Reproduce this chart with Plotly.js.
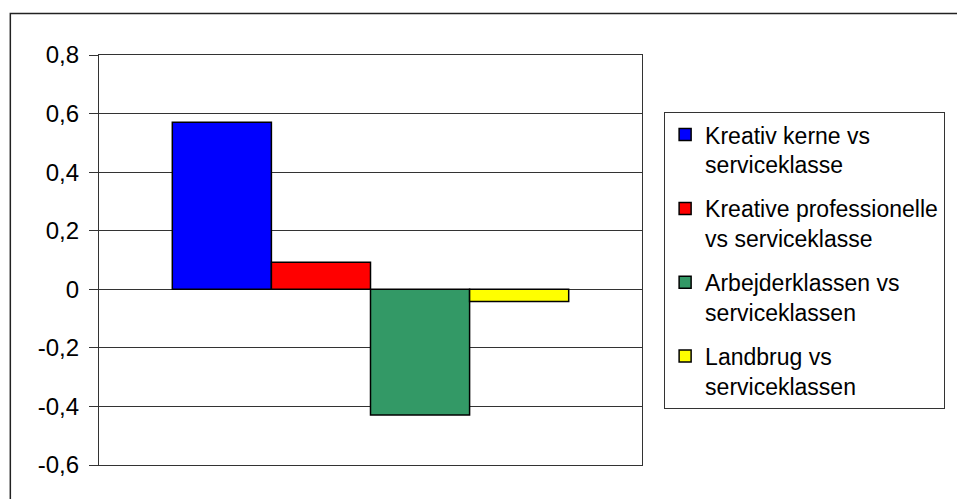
<!DOCTYPE html>
<html>
<head>
<meta charset="utf-8">
<script src="https://cdn.plot.ly/plotly-3.0.1.min.js"></script>
<style>html,body{margin:0;padding:0;background:#fff;}#chart{width:957px;height:499px;}</style>
</head>
<body>
<div id="chart"></div>
<script>
var category = [''];
var seriesNames = ['Kreativ kerne vs<br>serviceklasse', 'Kreative professionelle<br>vs serviceklasse', 'Arbejderklassen vs<br>serviceklassen', 'Landbrug vs<br>serviceklassen'];
var seriesValues = [0.57, 0.092, -0.429, -0.042];
var seriesColors = ['#0000FF', '#FF0000', '#339966', '#FFFF00'];
var tickValues = [-0.6, -0.4, -0.2, 0, 0.2, 0.4, 0.6, 0.8];
var tickLabels = ['-0,6', '-0,4', '-0,2', '0', '0,2', '0,4', '0,6', '0,8'];

var font = 'Arial, "Liberation Sans", sans-serif';
var traces = seriesNames.map(function (name, i) {
  return {
    type: 'bar',
    name: name,
    x: category,
    y: [seriesValues[i]],
    legendgroup: 'g' + i,
    marker: {color: seriesColors[i], line: {color: '#000', width: 1.5}},
    hoverinfo: 'y'
  };
});

var L = 99, R = 644, T = 55, B = 465.5;
function px2x(p) { return (p - L) / (R - L); }
function py2y(p) { return (B - p) / (B - T); }

var layout = {
  width: 957, height: 499,
  margin: {l: L, r: 957 - R, t: T, b: 499 - B, pad: 0},
  paper_bgcolor: '#fff', plot_bgcolor: '#fff',
  font: {family: font, color: '#000'},
  barmode: 'group', bargap: 0.27, bargroupgap: 0,
  showlegend: true,
  xaxis: {
    showticklabels: false, ticks: '', showgrid: false, zeroline: false,
    showline: true, mirror: true, linecolor: '#333', linewidth: 1.2,
    fixedrange: true
  },
  yaxis: {
    range: [-0.6, 0.8], tickvals: tickValues, ticktext: tickLabels,
    ticks: 'outside', ticklen: 9, tickcolor: '#333', tickwidth: 1,
    ticklabelstandoff: 5,
    tickfont: {size: 24, family: font, color: '#000'},
    showgrid: true, gridcolor: '#333', gridwidth: 1.2,
    zeroline: false,
    showline: true, mirror: true, linecolor: '#333', linewidth: 1.2,
    fixedrange: true
  },
  legend: {
    x: px2x(666), y: py2y(112), xanchor: 'left', yanchor: 'top',
    bordercolor: '#333', borderwidth: 1.2, bgcolor: '#fff',
    font: {size: 23, family: font, color: '#000'},
    valign: 'top', tracegroupgap: 11, traceorder: 'grouped',
    itemclick: false, itemdoubleclick: false
  },
  shapes: [{
    type: 'rect', xref: 'paper', yref: 'paper',
    x0: px2x(10), x1: px2x(1000), y0: py2y(540), y1: py2y(13.5),
    line: {color: '#222', width: 1.5}, fillcolor: 'rgba(0,0,0,0)', layer: 'below'
  }]
};

Plotly.newPlot('chart', traces, layout, {displayModeBar: false, staticPlot: true});
</script>
</body>
</html>
